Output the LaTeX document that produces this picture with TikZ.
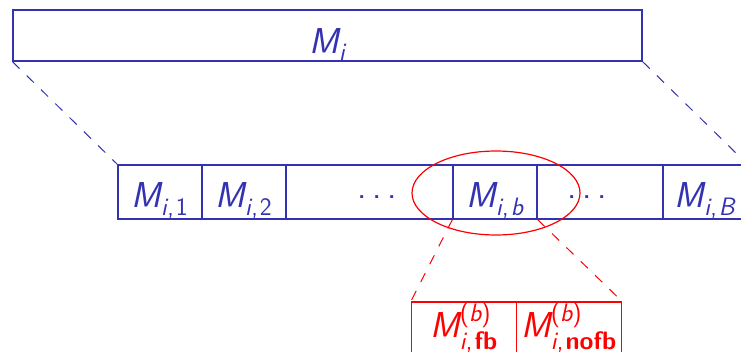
\documentclass[tikz,border=0pt]{standalone}
\usepackage{amsmath}
\usepackage{fontspec}
\usetikzlibrary{shapes.geometric}
\definecolor{sblue}{rgb}{0.2,0.2,0.7}
\newcommand{\sv}[1]{\textsf{\itshape #1}}
\newcommand{\su}[1]{\textsf{#1}}
\newcommand{\sbold}[1]{\textsf{\bfseries #1}}
\newcommand{\cm}{\kern0.5pt\su{,}\kern2pt}
\newcommand{\mydots}{\raisebox{0.25em}{\textsf{.\kern0.16em.\kern0.16em.}}}
\tikzset{
  big/.style={font=\fontsize{36}{44}\selectfont},
  bluebox/.style={big, draw=sblue, text=sblue, line width=1.2pt, inner sep=0pt},
  cell/.style={bluebox, minimum width=84pt, minimum height=54pt, text height=30pt, text depth=0pt},
  dotsnode/.style={big, text=sblue, inner sep=0pt, text height=30pt, text depth=0pt},
  redbox/.style={big, draw=red, text=red, line width=1.2pt, inner sep=0pt, minimum width=105pt, minimum height=56pt, text height=14pt, text depth=0pt},
  bluedash/.style={draw=sblue, line width=1pt, dash pattern=on 10pt off 10pt},
  reddash/.style={draw=red, line width=1pt, dash pattern=on 10pt off 10pt},
}
\begin{document}
\begin{tikzpicture}[x=1pt,y=-1pt]
\clip (0,0) rectangle (741,351);
\node[bluebox, minimum width=629pt, minimum height=51pt, text height=35pt, text depth=0pt] (Mi) at (327.5,35.5) {$\sv{M}_{\sv{i}}$};
\node[bluebox, minimum width=629pt, minimum height=54pt] (strip) at (432.5,192) {};
\node[cell] (c1) at (160,192) {$\sv{M}_{\sv{i}\cm\su{1}}$};
\node[cell] (c2) at (244,192) {$\sv{M}_{\sv{i}\cm\su{2}}$};
\node[dotsnode] (d1) at (377,192) {\mydots};
\node[cell] (cb) at (495,192) {$\sv{M}_{\sv{i}\cm\sv{b}}$};
\node[dotsnode] (d2) at (587,192) {\mydots};
\node[cell] (cB) at (705,192) {$\sv{M}_{\sv{i}\cm\sv{B}}$};
\node[ellipse, draw=red, line width=1.2pt, minimum width=168pt, minimum height=84pt, inner sep=0pt] (ell) at (496,193) {};
\node[redbox] (r1) at (464,330) {$\sv{M}^{\su{(}\sv{b}\su{)}}_{\sv{i}\cm\sbold{fb}}$};
\node[redbox] (r2) at (569,330) {$\sv{M}^{\su{(}\sv{b}\su{)}}_{\sv{i}\cm\sbold{nofb}}$};
\draw[bluedash] (Mi.south west) -- (strip.north west);
\draw[bluedash] (Mi.south east) -- (strip.north east);
\draw[reddash] (cb.south west) -- (r1.north west);
\draw[reddash] (cb.south east) -- (r2.north east);
\end{tikzpicture}
\end{document}
